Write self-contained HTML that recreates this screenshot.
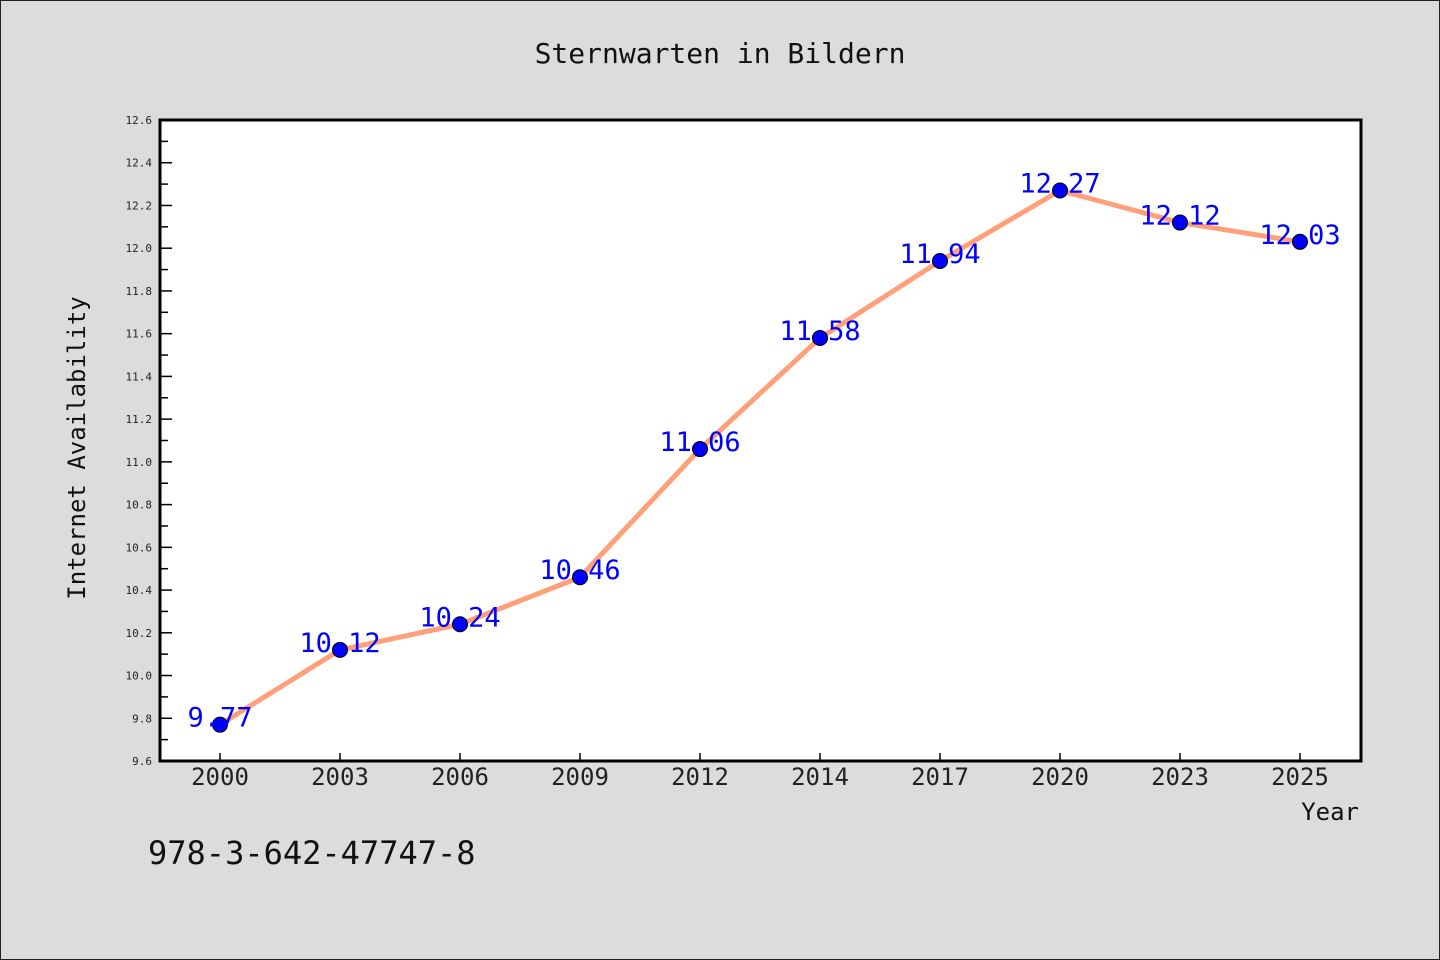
<!DOCTYPE html>
<html><head><meta charset="utf-8"><style>
html,body{margin:0;padding:0;background:#dcdcdc;}
svg{display:block;font-family:"WenQuanYi Zen Hei","WenQuanYi Zen Hei Mono","DejaVu Sans Mono",monospace;}
</style></head><body>
<svg id="c" width="1440" height="960" viewBox="0 0 1440 960">
<rect x="0.5" y="0.5" width="1439" height="959" fill="#dcdcdc" stroke="#222"/>
<text x="720" y="63" text-anchor="middle" font-size="28" fill="#111">Sternwarten in Bildern</text>
<rect x="160" y="120" width="1201" height="641" fill="#fff"/>
<g id="ticks"></g>
<g id="series"></g>
<rect x="160" y="120" width="1201" height="641" fill="none" stroke="#000" stroke-width="3"/>
<text transform="translate(85,448) rotate(-90)" text-anchor="middle" font-size="24" fill="#111">Internet Availability</text>
<text x="1359" y="820" text-anchor="end" font-size="24" fill="#111">Year</text>
<text x="148" y="864" font-size="32" fill="#111">978-3-642-47747-8</text>
</svg>
<script>
const categories=["2000","2003","2006","2009","2012","2014","2017","2020","2023","2025"];
const values=[9.77,10.12,10.24,10.46,11.06,11.58,11.94,12.27,12.12,12.03];
const yTicks=[9.6,9.8,10.0,10.2,10.4,10.6,10.8,11.0,11.2,11.4,11.6,11.8,12.0,12.2,12.4,12.6];
(function(){
const NS="http://www.w3.org/2000/svg";
const yMin=9.6,yMax=12.6,plotTop=120,plotBot=761;
const ys=v=>plotBot-(v-yMin)/(yMax-yMin)*(plotBot-plotTop);
const xs=i=>220+i*120;
function mk(t,a,p){const e=document.createElementNS(NS,t);for(const k in a)e.setAttribute(k,a[k]);p.appendChild(e);return e;}
const tg=document.getElementById('ticks'),sg=document.getElementById('series');
yTicks.forEach((v,i)=>{
 const y=ys(v);
 const l=mk('line',{x1:160,x2:172,y1:y,y2:y,stroke:'#000','stroke-width':1.5},tg);
 
 
 const t=mk('text',{x:152,y:y+4,'text-anchor':'end','font-size':11,fill:'#222'},tg);
 t.textContent=v.toFixed(1);
 
 
 if(i<yTicks.length-1){const ym=ys(v+0.1);
  const m=mk('line',{x1:160,x2:168,y1:ym,y2:ym,stroke:'#000','stroke-width':1.5},tg);
  
  }
});
categories.forEach((c,i)=>{
 const x=xs(i);
 const l=mk('line',{x1:x,x2:x,y1:plotBot,y2:plotBot-8,stroke:'#000','stroke-width':1.5},tg);
 
 
 const t=mk('text',{x:x,y:785,'text-anchor':'middle','font-size':24,fill:'#222'},tg);
 t.textContent=c;
 
 
});
const pl=mk('polyline',{points:values.map((v,i)=>xs(i)+','+ys(v)).join(' '),fill:'none',stroke:'#ffa07a','stroke-width':5,'stroke-linejoin':'round'},sg);


values.forEach((v,i)=>{
 const c=mk('circle',{cx:xs(i),cy:ys(v),r:7.5,fill:'#0000ff',stroke:'#000','stroke-width':1},sg);
 
 
});
values.forEach((v,i)=>{
 const t=mk('text',{x:xs(i),y:ys(v)+2,'text-anchor':'middle','font-size':27,fill:'#0000ff'},sg);
 t.textContent=v.toFixed(2);
 
 
});
})();
</script>
</body></html>
